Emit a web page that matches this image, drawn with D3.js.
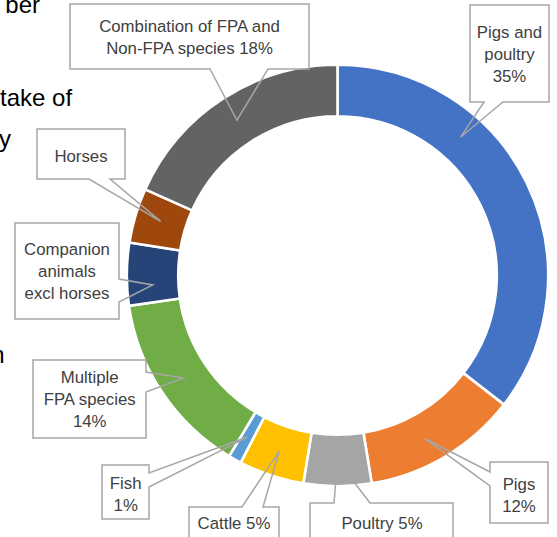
<!DOCTYPE html>
<html><head><meta charset="utf-8">
<script src="https://cdn.jsdelivr.net/npm/d3@7"></script>
<style>html,body{margin:0;padding:0;background:#fff;overflow:hidden}svg{display:block}</style>
</head><body>
<svg id="chart" width="557" height="537"></svg>
<script>
// ---- data ----
const categories = ["Pigs and poultry","Pigs","Poultry","Cattle","Fish","Multiple FPA species","Companion animals excl horses","Horses","Combination of FPA and Non-FPA species"];
const values = [35.5, 11.9, 5.2, 5.0, 1.0, 14.1, 4.8, 4.2, 18.3];
const colors = ["#4472C4","#ED7D31","#A5A5A5","#FFC000","#5B9BD5","#70AD47","#264478","#9E480E","#636363"];
const labelLines = [["Pigs and","poultry","35%"],["Pigs","12%"],["Poultry 5%"],["Cattle 5%"],["Fish","1%"],["Multiple","FPA species","14%"],["Companion","animals","excl horses"],["Horses"],["Combination of FPA and","Non-FPA species 18%"]];
// background document text fragments (cut off at the left edge)
const bgTexts = [{t:"ber",x:40,y:13,a:"end"},{t:"take of",x:0,y:106,a:"start"},{t:"y",x:11,y:147,a:"end"},{t:"n",x:4.5,y:363,a:"end"}];

// ---- layout ----
const cx = 337.5, cy = 275.5, R = 210.7, r = 159.3;
const boxes = [
  {x:470,y:5,w:79,h:97, side:"bottom", w0:484,w1:503, tf:0.326, tx:509.5, b0:37.5},
  {x:490,y:462,w:58,h:61, side:"left", w0:472,w1:486, tf:0.56, tx:519, b0:489.5},
  {x:310,y:503,w:143,h:45, side:"top", w0:334,w1:370, tf:0.5, tx:382, b0:528.5},
  {x:189,y:507,w:90,h:41, side:"top", w0:242,w1:263, tf:0.5, tx:234, b0:528.5},
  {x:102,y:465,w:47,h:54, side:"right", w0:473,w1:487, tf:0.5, tx:125.7, b0:488.5},
  {x:33,y:360,w:113,h:78, side:"right", w0:372,w1:392, tf:0.5, tx:89.7, b0:383},
  {x:15,y:223,w:104,h:96, side:"right", w0:279,w1:302, tf:0.31, tx:67, b0:255},
  {x:37,y:129,w:88,h:50, side:"bottom", w0:89,w1:110, tf:0.53, tx:81, b0:161.5},
  {x:70,y:4,w:239,h:65, side:"bottom", w0:210,w1:268, tf:0.5, tx:189.5, b0:32}
];
const lineH = 22;

const svg = d3.select("#chart");
const font = "'Liberation Sans', Arial, sans-serif";

svg.selectAll("text.bg").data(bgTexts).join("text").attr("class","bg")
  .attr("x",d=>d.x).attr("y",d=>d.y).attr("text-anchor",d=>d.a)
  .style("font-family",font).style("font-size","24px").style("fill","#000").text(d=>d.t);

const pie = d3.pie().sort(null).value(d=>d)(values);
const arc = d3.arc().innerRadius(r).outerRadius(R);
const g = svg.append("g").attr("transform",`translate(${cx},${cy})`);
g.selectAll("path").data(pie).join("path")
  .attr("d",arc).attr("fill",(d,i)=>colors[i])
  .attr("stroke","#fff").attr("stroke-width",2.6).attr("stroke-linejoin","miter");

function calloutPath(b, tip){
  const x0=b.x, y0=b.y, x1=b.x+b.w, y1=b.y+b.h;
  const pts=[[x0,y0]];
  if(b.side==="top") pts.push([b.w0,y0],tip,[b.w1,y0]);
  pts.push([x1,y0]);
  if(b.side==="right") pts.push([x1,b.w0],tip,[x1,b.w1]);
  pts.push([x1,y1]);
  if(b.side==="bottom") pts.push([b.w1,y1],tip,[b.w0,y1]);
  pts.push([x0,y1]);
  if(b.side==="left") pts.push([x0,b.w1],tip,[x0,b.w0]);
  return "M"+pts.map(p=>p.join(",")).join("L")+"Z";
}
const rm = (r+R)/2;
const labels = svg.append("g");
pie.forEach((p,i)=>{
  const b = boxes[i];
  const a = p.startAngle + b.tf*(p.endAngle-p.startAngle);
  const tip = [cx + rm*Math.sin(a), cy - rm*Math.cos(a)];
  labels.append("path").attr("d",calloutPath(b,tip))
    .attr("fill","none").attr("stroke","#A6A6A6").attr("stroke-width",1.5).attr("stroke-linejoin","miter");
  const t = labels.append("text").attr("text-anchor","middle")
    .style("font-family",font).style("font-size","16.8px").style("fill","#404040");
  labelLines[i].forEach((ln,k)=>{
    t.append("tspan").attr("x",b.tx).attr("y",b.b0+k*lineH).text(ln);
  });
});
</script>
</body></html>
